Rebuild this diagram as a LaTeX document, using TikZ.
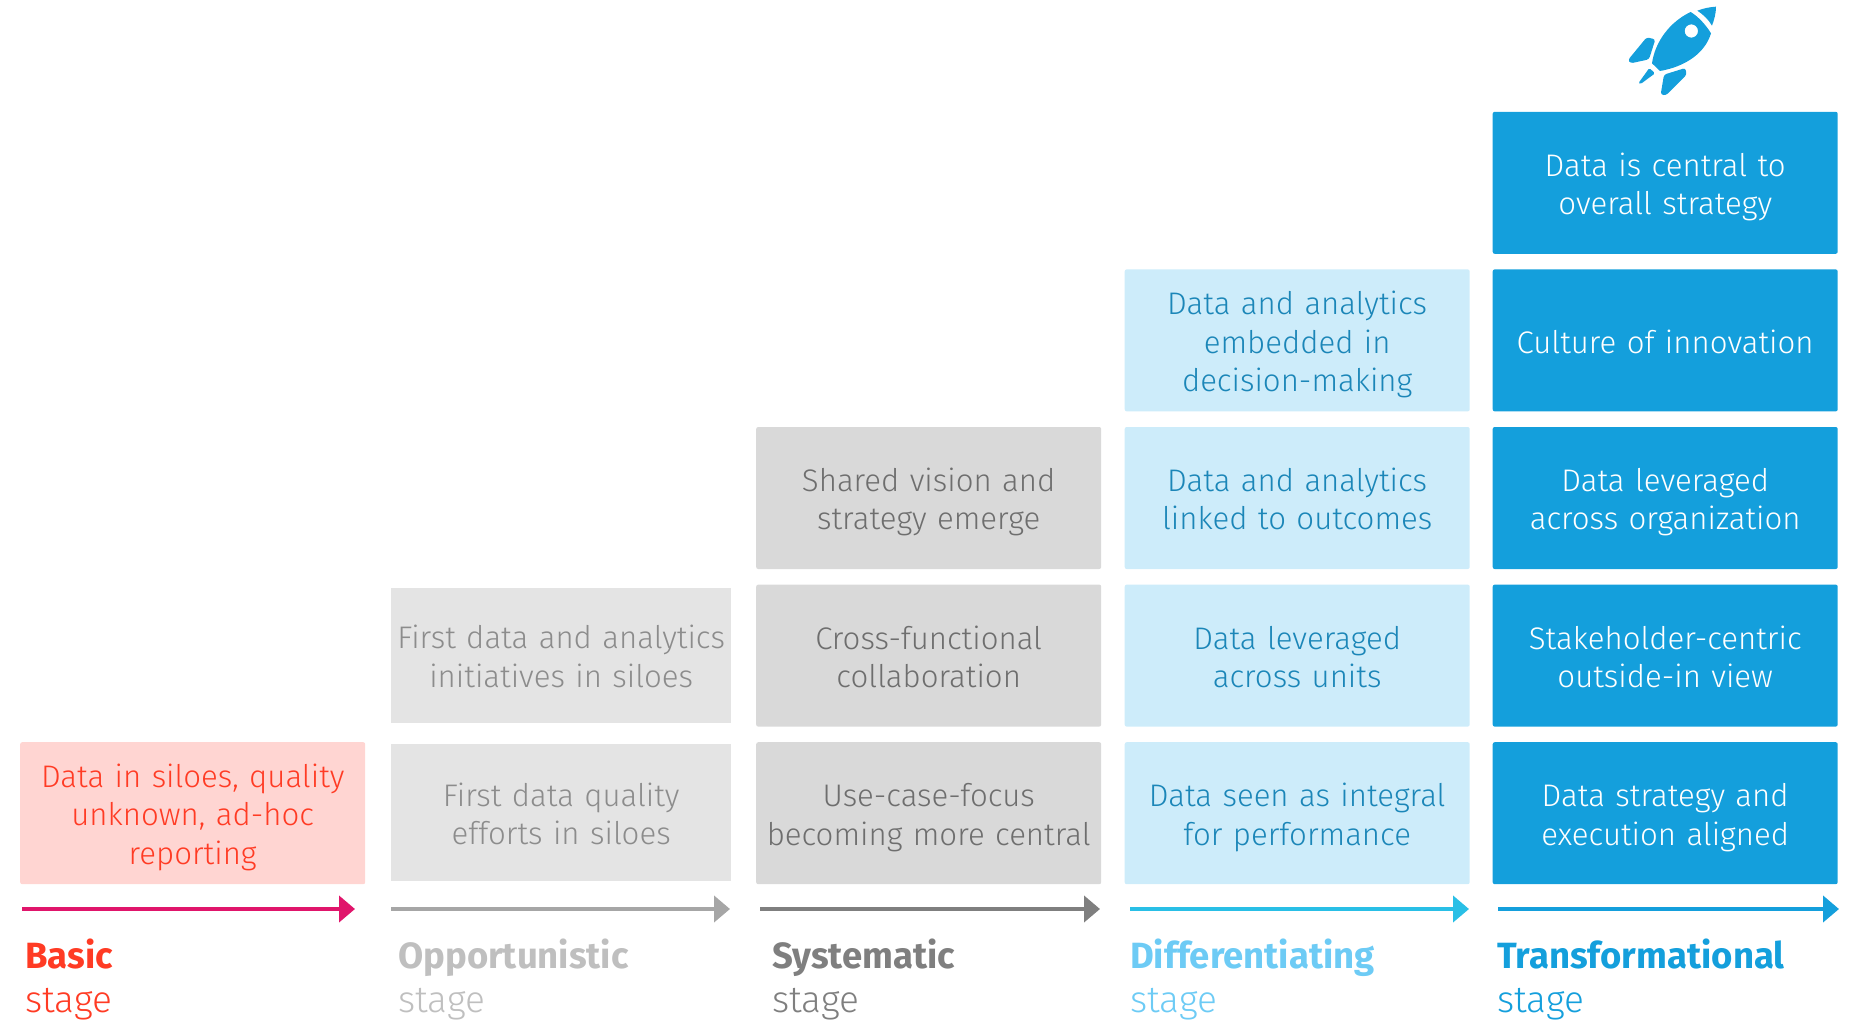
\documentclass[tikz,border=0pt]{standalone}
\usepackage{fontspec}
\setmainfont{Fira Sans Light}[BoldFont={Fira Sans Bold}]
\usepackage{tikz}
\usetikzlibrary{arrows.meta,positioning}
\definecolor{basicred}{HTML}{FF3B24}
\definecolor{basicfill}{HTML}{FFD5D2}
\definecolor{basicarrow}{HTML}{E0156B}
\definecolor{oppfill}{HTML}{E4E4E4}
\definecolor{opptext}{HTML}{8C8C8C}
\definecolor{opplabel}{HTML}{BFBFBF}
\definecolor{opparrow}{HTML}{A6A6A6}
\definecolor{sysfill}{HTML}{D9D9D9}
\definecolor{systext}{HTML}{6E6E6E}
\definecolor{sysarrow}{HTML}{7F7F7F}
\definecolor{difffill}{HTML}{CDECFA}
\definecolor{difftext}{HTML}{1B86B8}
\definecolor{difflabel}{HTML}{6DCBF5}
\definecolor{diffarrow}{HTML}{29BFE6}
\definecolor{transblue}{HTML}{149FDC}

\tikzset{
  box/.style={rectangle, rounded corners=2pt, inner sep=0pt, align=center, text width=334pt, minimum width=345pt, minimum height=142pt, font=\fontsize{31.2}{38.5}\selectfont, execute at begin node={\rule{0pt}{37pt}}, execute at end node=\strut},
  stagename/.style={anchor=base west, inner sep=0pt, font=\fontsize{36.5}{46}\selectfont\bfseries},
  stageword/.style={anchor=base west, inner sep=0pt, font=\fontsize{37}{44}\selectfont},
  stagearrow/.style={line width=4pt, -{Triangle[length=16pt,width=26pt]}},
}

\begin{document}
\begin{tikzpicture}[x=1pt, y=-1pt, node distance=15.2pt]
  \useasboundingbox (0,0) rectangle (1850,1020);

  % bottom row
  \node[box, fill=basicfill, text=basicred, anchor=north west] (basic1) at (20,742) {Data in siloes, quality\\unknown, ad-hoc\\reporting};
  \node[box, fill=oppfill, text=opptext, anchor=north west, minimum width=340pt, minimum height=137pt, rounded corners=0pt] (opp1) at (391,744) {First data quality\\efforts in siloes};
  \node[box, fill=sysfill, text=systext, anchor=north west] (sys1) at (756,742) {Use-case-focus\\becoming more central};
  \node[box, fill=difffill, text=difftext, anchor=north west] (diff1) at (1124.5,742) {Data seen as integral\\for performance};
  \node[box, fill=transblue, text=white, anchor=north west] (trans1) at (1492.5,742) {Data strategy and\\execution aligned};

  % upper rows
  \node[box, fill=oppfill, text=opptext, minimum width=340pt, minimum height=135pt, rounded corners=0pt, above=21pt of opp1] (opp2) {First data and analytics\\initiatives in siloes};
  \node[box, fill=sysfill, text=systext, above=of sys1] (sys2) {Cross-functional\\collaboration};
  \node[box, fill=sysfill, text=systext, above=of sys2] (sys3) {Shared vision and\\strategy emerge};
  \node[box, fill=difffill, text=difftext, above=of diff1] (diff2) {Data leveraged\\across units};
  \node[box, fill=difffill, text=difftext, above=of diff2] (diff3) {Data and analytics\\linked to outcomes};
  \node[box, fill=difffill, text=difftext, above=of diff3] (diff4) {Data and analytics\\embedded in\\decision-making};
  \node[box, fill=transblue, text=white, above=of trans1] (trans2) {Stakeholder-centric\\outside-in view};
  \node[box, fill=transblue, text=white, above=of trans2] (trans3) {Data leveraged\\across organization};
  \node[box, fill=transblue, text=white, above=of trans3] (trans4) {Culture of innovation};
  \node[box, fill=transblue, text=white, above=of trans4] (trans5) {Data is central to\\overall strategy};

  % arrows
  \coordinate (basicfrom) at (22,909);
  \coordinate (basicto) at (355,909);
  \coordinate (oppfrom) at (391,909);
  \coordinate (oppto) at (730,909);
  \coordinate (sysfrom) at (760,909);
  \coordinate (systo) at (1100,909);
  \coordinate (difffrom) at (1130,909);
  \coordinate (diffto) at (1469,909);
  \coordinate (transfrom) at (1498,909);
  \coordinate (transto) at (1839,909);
  \draw[stagearrow, basicarrow] (basicfrom) -- (basicto);
  \draw[stagearrow, opparrow] (oppfrom) -- (oppto);
  \draw[stagearrow, sysarrow] (sysfrom) -- (systo);
  \draw[stagearrow, diffarrow] (difffrom) -- (diffto);
  \draw[stagearrow, transblue] (transfrom) -- (transto);

  % stage names
  \node[stagename, text=basicred] (basicname) at (25,968) {Basic};
  \node[stageword, text=basicred] (basicword) at (25,1012) {stage};
  \node[stagename, text=opplabel] (oppname) at (398,968) {Opportunistic};
  \node[stageword, text=opplabel] (oppword) at (398,1012) {stage};
  \node[stagename, text=sysarrow] (sysname) at (772,968) {Systematic};
  \node[stageword, text=sysarrow] (sysword) at (772,1012) {stage};
  \node[stagename, text=difflabel] (diffname) at (1130,968) {Differentiating};
  \node[stageword, text=difflabel] (diffword) at (1130,1012) {stage};
  \node[stagename, text=transblue] (transname) at (1497,968) {Transformational};
  \node[stageword, text=transblue] (transword) at (1497,1012) {stage};

  % rocket
  \begin{scope}[shift={(1600,0)}, x=.3333pt, y=-.3333pt]
    \fill[transblue, even odd rule] (272,36) .. controls (295,50) and (318,75) .. (333,100) .. controls (315,160) and (255,200) .. (180,213) -- (156,190) .. controls (165,125) and (210,65) .. (272,36) -- cycle (294,93) arc[start angle=0, end angle=360, radius=20];
    \fill[transblue] (292,32) .. controls (310,25) and (330,21) .. (348,20) .. controls (348,40) and (343,58) .. (336,77) .. controls (325,58) and (310,44) .. (292,32) -- cycle;
    \fill[transblue, rounded corners=2.5pt] (84,180) -- (140,112) -- (166,118) -- (147,178) -- (92,190) -- cycle;
    \fill[transblue, rounded corners=1.5pt] (148,204) -- (165,220) -- (122,252) -- (115,250) -- cycle;
    \fill[transblue, rounded corners=2.5pt] (192,224) -- (256,204) -- (260,224) -- (198,286) -- (182,284) -- cycle;
  \end{scope}
\end{tikzpicture}
\end{document}
